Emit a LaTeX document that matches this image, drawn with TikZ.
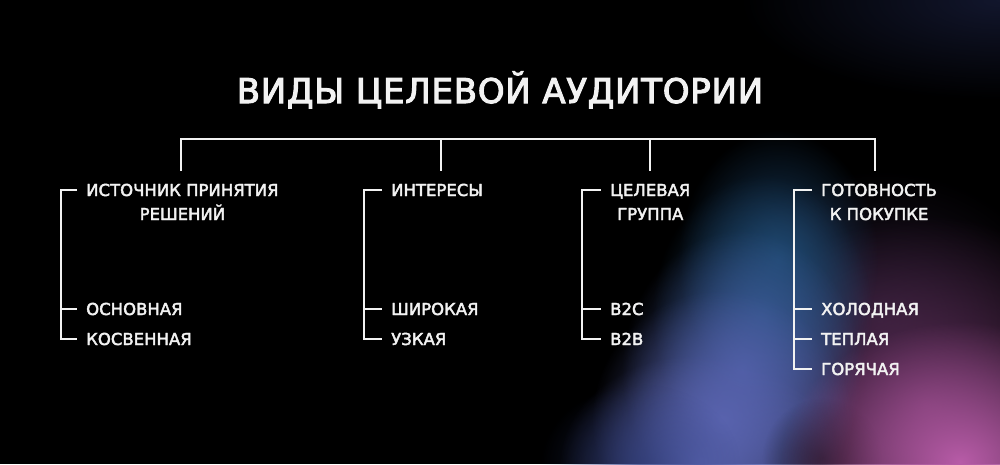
\documentclass[tikz,border=0pt]{standalone}
\usepackage{fontspec}
\setmainfont{DejaVu Sans}
\newfontfamily\titlefont{DejaVu Sans}[FakeBold=3, LetterSpace=2.2]
\newfontfamily\labfont{DejaVu Sans}[FakeBold=2.5]
\usetikzlibrary{fadings,calc}
\tikzfading[name=glowf, inner color=transparent!0, outer color=transparent!100]
\definecolor{fg}{HTML}{F2F2F2}
\definecolor{glA}{HTML}{1A2040}
\definecolor{glB}{HTML}{1D4770}
\definecolor{glC}{HTML}{24527E}
\definecolor{glD}{HTML}{4A5EA4}
\definecolor{glE}{HTML}{5A64B0}
\definecolor{glF}{HTML}{2A3A78}
\definecolor{glG}{HTML}{5A2C55}
\definecolor{glH}{HTML}{B85CA8}
\definecolor{glI}{HTML}{2A1C34}
\definecolor{glK}{HTML}{000000}
\begin{document}
\begin{tikzpicture}[x=1pt,y=-1pt,
  br/.style={draw=fg, line width=2.2pt},
  lab/.style={text=fg, font=\labfont\fontsize{16.5}{20}\selectfont, inner xsep=9pt, inner ysep=0pt, text height=12pt, text depth=0pt},
  ttl/.style={text=fg, font=\titlefont\fontsize{34}{36}\selectfont, inner sep=0pt}]
\useasboundingbox (0,0) rectangle (1000,464);
\fill[black] (0,0) rectangle (1000,464);
\begin{scope}
\clip (0,0) rectangle (1000,464);
\foreach \x/\y/\a/\b/\c/\o in {1000/0/260/100/glA/0.7, 880/320/180/150/glI/0.8, 925/405/200/190/glG/1, 778/260/100/130/glB/0.9, 762/315/110/140/glC/0.9, 742/370/120/140/glD/0.9, 722/420/130/130/glE/0.95, 700/464/140/110/glE/0.95, 640/464/100/80/glF/0.5, 822/458/60/60/glK/0.6, 960/462/180/140/glH/1}
  \fill[\c, path fading=glowf, opacity=\o] (\x,\y) ellipse (\a pt and \b pt);
\end{scope}

\node[ttl, anchor=base] (title) at (500,103) {ВИДЫ ЦЕЛЕВОЙ АУДИТОРИИ};

% headers
\node[lab, anchor=base west] (g1a) at (77,196) {ИСТОЧНИК ПРИНЯТИЯ};
\node[lab, anchor=base] (g1b) at ($(g1a.base)+(0,24)$) {РЕШЕНИЙ};
\node[lab, anchor=base west] (g2a) at (382,196) {ИНТЕРЕСЫ};
\node[lab, anchor=base west] (g3a) at (601,196) {ЦЕЛЕВАЯ};
\node[lab, anchor=base] (g3b) at ($(g3a.base)+(0,24)$) {ГРУППА};
\node[lab, anchor=base west] (g4a) at (812,196) {ГОТОВНОСТЬ};
\node[lab, anchor=base] (g4b) at ($(g4a.base)+(0,24)$) {К ПОКУПКЕ};

% items
\node[lab, anchor=base west] (l11) at (77,315) {ОСНОВНАЯ};
\node[lab, anchor=base west] (l12) at (77,345) {КОСВЕННАЯ};
\node[lab, anchor=base west] (l21) at (382,315) {ШИРОКАЯ};
\node[lab, anchor=base west] (l22) at (382,345) {УЗКАЯ};
\node[lab, anchor=base west] (l31) at (601,315) {B2C};
\node[lab, anchor=base west] (l32) at (601,345) {B2B};
\node[lab, anchor=base west] (l41) at (812,315) {ХОЛОДНАЯ};
\node[lab, anchor=base west] (l42) at (812,345) {ТЕПЛАЯ};
\node[lab, anchor=base west] (l43) at (812,375) {ГОРЯЧАЯ};

% top bar
\coordinate (bar) at (0,139);
\coordinate (d1) at (181,171);
\coordinate (d2) at (441,171);
\coordinate (d3) at (650,171);
\coordinate (d4) at (875,171);
\draw[br] (d1) |- (d4 |- bar) -- (d4);
\draw[br] (d2 |- bar) -- (d2);
\draw[br] (d3 |- bar) -- (d3);

% group brackets
\coordinate (b1) at (61,0);
\coordinate (b2) at (364,0);
\coordinate (b3) at (582,0);
\coordinate (b4) at (794,0);
\draw[br] (g1a.west) -| (b1 |- l12.west) -- (l12.west);
\draw[br] (b1 |- l11.west) -- (l11.west);
\draw[br] (g2a.west) -| (b2 |- l22.west) -- (l22.west);
\draw[br] (b2 |- l21.west) -- (l21.west);
\draw[br] (g3a.west) -| (b3 |- l32.west) -- (l32.west);
\draw[br] (b3 |- l31.west) -- (l31.west);
\draw[br] (g4a.west) -| (b4 |- l43.west) -- (l43.west);
\draw[br] (b4 |- l41.west) -- (l41.west);
\draw[br] (b4 |- l42.west) -- (l42.west);
\end{tikzpicture}
\end{document}
